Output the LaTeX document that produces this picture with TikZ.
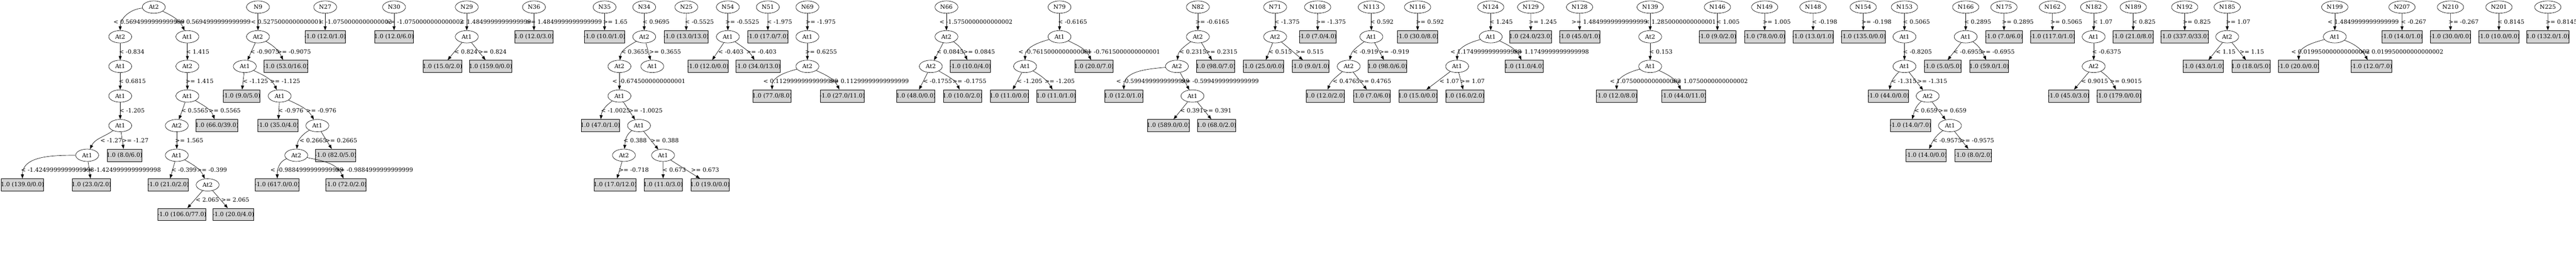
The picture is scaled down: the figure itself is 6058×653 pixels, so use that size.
\documentclass[tikz,border=0pt]{standalone}
\usepackage{fontspec}
\setmainfont{DejaVu Serif}
\usetikzlibrary{shapes.geometric,arrows.meta}
\definecolor{leafgray}{HTML}{D3D3D3}
\def\RowA{-16.7}\def\RowB{-86.3}\def\RowC{-155.9}\def\RowD{-225.5}
\def\RowE{-295.1}\def\RowF{-364.7}\def\RowG{-434.3}\def\RowH{-503.9}
\def\LabA{-51.5}\def\LabB{-121.1}\def\LabC{-190.7}\def\LabD{-260.3}
\def\LabE{-329.9}\def\LabF{-399.5}\def\LabG{-469.1}
\begin{document}
\begin{tikzpicture}[x=1pt,y=1pt,font=\fontsize{13.6}{16}\selectfont,
 nd/.style={ellipse,draw,line width=0.8pt,minimum width=54pt,minimum height=29pt,inner sep=0pt},
 ndw/.style={nd,minimum width=62pt},
 lf/.style={rectangle,draw,fill=leafgray,line width=1pt,minimum height=29pt,inner xsep=-1.5pt,inner ysep=0pt},
 lb/.style={anchor=west,inner sep=0pt},
 conn/.style={-{Triangle[length=9.5pt,width=7pt]},line width=0.8pt}]
\fill[white] (0,0) rectangle (6058,-653);
\useasboundingbox (0,0) rectangle (6058,-653);

% ---------- Tree A ----------
\node[nd] (A0) at (361.7,\RowA) {At2};
\node[nd] (A1) at (282.7,\RowB) {At2};
\node[nd] (A2) at (440.7,\RowB) {At1};
\node[nd] (A3) at (282.7,\RowC) {At1};
\node[nd] (A4) at (282.7,\RowD) {At1};
\node[nd] (A5) at (282.7,\RowE) {At1};
\node[nd] (A6) at (205,\RowF) {At1};
\node[lf] (A7) at (292.7,\RowF) {1.0 (8.0/6.0)};
\node[lf] (A8) at (52.7,\RowG) {1.0 (139.0/0.0)};
\node[lf] (A9) at (215,\RowG) {1.0 (23.0/2.0)};
\node[nd] (A10) at (440.7,\RowC) {At2};
\node[nd] (A11) at (440.7,\RowD) {At1};
\node[nd] (A12) at (415.7,\RowE) {At2};
\node[lf] (A13) at (510,\RowE) {1.0 (66.0/39.0)};
\node[nd] (A14) at (415.7,\RowF) {At1};
\node[lf] (A15) at (395.7,\RowG) {-1.0 (21.0/2.0)};
\node[nd] (A16) at (488.3,\RowG) {At2};
\node[lf] (A17) at (427.7,\RowH) {-1.0 (106.0/77.0)};
\node[lf] (A18) at (548.7,\RowH) {-1.0 (20.0/4.0)};
\draw[conn] (A0) to[out=185,in=90] (A1);
\draw[conn] (A0) to[out=-25,in=115] (A2);
\draw[conn] (A1) -- (A3);
\draw[conn] (A3) -- (A4);
\draw[conn] (A4) -- (A5);
\draw[conn] (A5) to[out=215,in=65] (A6);
\draw[conn] (A5) -- (A7);
\draw[conn] (A6) to[out=180,in=90] (A8);
\draw[conn] (A6) -- (A9);
\draw[conn] (A2) -- (A10);
\draw[conn] (A10) -- (A11);
\draw[conn] (A11) -- (A12);
\draw[conn] (A11) to[out=-30,in=110] (A13);
\draw[conn] (A12) -- (A14);
\draw[conn] (A14) -- (A15);
\draw[conn] (A14) to[out=-30,in=115] (A16);
\draw[conn] (A16) -- (A17);
\draw[conn] (A16) -- (A18);
\node[lb] at (266.7,\LabA) {< 0.5694999999999999};
\node[lb] at (410.7,\LabA) {>= 0.5694999999999999};
\node[lb] at (280,\LabB) {< -0.834};
\node[lb] at (437.3,\LabB) {< 1.415};
\node[lb] at (279.3,\LabC) {< 0.6815};
\node[lb] at (436,\LabC) {>= 1.415};
\node[lb] at (280.7,\LabD) {< -1.205};
\node[lb] at (426,\LabD) {< 0.5565};
\node[lb] at (491,\LabD) {>= 0.5565};
\node[lb] at (236,\LabE) {< -1.27};
\node[lb] at (287,\LabE) {>= -1.27};
\node[lb] at (411.7,\LabE) {>= 1.565};
\node[lb] at (49.3,\LabF) {< -1.4249999999999998};
\node[lb] at (195,\LabF) {>= -1.4249999999999998};
\node[lb] at (403,\LabF) {< -0.399};
\node[lb] at (463,\LabF) {>= -0.399};
\node[lb] at (460,\LabG) {< 2.065};
\node[lb] at (520,\LabG) {>= 2.065};

% ---------- Tree N9 ----------
\node[nd] (N9) at (606.7,\RowA) {N9};
\node[nd] (B1) at (606.7,\RowB) {At2};
\node[nd] (B2) at (575.7,\RowC) {At1};
\node[lf] (B3) at (672.7,\RowC) {-1.0 (53.0/16.0)};
\node[lf] (B4) at (567.7,\RowD) {-1.0 (9.0/5.0)};
\node[nd] (B5) at (657.7,\RowD) {At1};
\node[lf] (B6) at (654,\RowE) {-1.0 (35.0/4.0)};
\node[nd] (B7) at (746.3,\RowE) {At1};
\node[nd] (B8) at (696.7,\RowF) {At2};
\node[lf] (B9) at (789.5,\RowF) {-1.0 (82.0/5.0)};
\node[lf] (B10) at (652,\RowG) {-1.0 (617.0/0.0)};
\node[lf] (B11) at (813.7,\RowG) {-1.0 (72.0/2.0)};
\draw[conn] (N9) -- (B1);
\draw[conn] (B1) -- (B2);
\draw[conn] (B1) to[out=-30,in=115] (B3);
\draw[conn] (B2) -- (B4);
\draw[conn] (B2) to[out=-25,in=115] (B5);
\draw[conn] (B5) -- (B6);
\draw[conn] (B5) to[out=-25,in=120] (B7);
\draw[conn] (B7) to[out=210,in=85] (B8);
\draw[conn] (B7) -- (B9);
\draw[conn] (B8) to[out=200,in=90] (B10);
\draw[conn] (B8) to[out=-12,in=112] (B11);
\node[lb] at (590,\LabA) {< 0.5275000000000001};
\node[lb] at (588.3,\LabB) {< -0.9075};
\node[lb] at (651.7,\LabB) {>= -0.9075};
\node[lb] at (571,\LabC) {< -1.125};
\node[lb] at (635,\LabC) {>= -1.125};
\node[lb] at (654,\LabD) {< -0.976};
\node[lb] at (720,\LabD) {>= -0.976};
\node[lb] at (704.3,\LabE) {< 0.2665};
\node[lb] at (765,\LabE) {>= 0.2665};
\node[lb] at (635.7,\LabF) {< -0.9884999999999999};
\node[lb] at (788,\LabF) {>= -0.9884999999999999};

% ---------- N27, N30 ----------
\node[nd] (N27) at (764.7,\RowA) {N27};
\node[lf] (N27L) at (764.7,\RowB) {-1.0 (12.0/1.0)};
\draw[conn] (N27) -- (N27L);
\node[lb] at (750,\LabA) {< -1.0750000000000002};
\node[nd] (N30) at (926.7,\RowA) {N30};
\node[lf] (N30L) at (926.7,\RowB) {1.0 (12.0/6.0)};
\draw[conn] (N30) -- (N30L);
\node[lb] at (906.7,\LabA) {>= -1.0750000000000002};

% ---------- N29 ----------
\node[nd] (N29) at (1097.7,\RowA) {N29};
\node[nd] (C1) at (1097.7,\RowB) {At1};
\node[lf] (C2) at (1040.5,\RowC) {1.0 (15.0/2.0)};
\node[lf] (C3) at (1153.7,\RowC) {1.0 (159.0/0.0)};
\draw[conn] (N29) -- (C1);
\draw[conn] (C1) -- (C2);
\draw[conn] (C1) -- (C3);
\node[lb] at (1081.7,\LabA) {< 1.4849999999999999};
\node[lb] at (1068.3,\LabB) {< 0.824};
\node[lb] at (1125,\LabB) {>= 0.824};

% ---------- N36, N35 ----------
\node[nd] (N36) at (1255.7,\RowA) {N36};
\node[lf] (N36L) at (1255.7,\RowB) {1.0 (12.0/3.0)};
\draw[conn] (N36) -- (N36L);
\node[lb] at (1236.7,\LabA) {>= 1.4849999999999999};
\node[nd] (N35) at (1421.7,\RowA) {N35};
\node[lf] (N35L) at (1421.7,\RowB) {-1.0 (10.0/1.0)};
\draw[conn] (N35) -- (N35L);
\node[lb] at (1418,\LabA) {>= 1.65};

% ---------- N34 ----------
\node[nd] (N34) at (1515,\RowA) {N34};
\node[nd] (D1) at (1515,\RowB) {At2};
\node[nd] (D2) at (1456.7,\RowC) {At2};
\node[nd] (D3) at (1534,\RowC) {At1};
\node[nd] (D4) at (1456.7,\RowD) {At1};
\node[lf] (D5) at (1411.7,\RowE) {1.0 (47.0/1.0)};
\node[nd] (D6) at (1502.7,\RowE) {At1};
\node[nd] (D7) at (1467.3,\RowF) {At2};
\node[nd] (D8) at (1559.3,\RowF) {At1};
\node[lf] (D9) at (1446.7,\RowG) {1.0 (17.0/12.0)};
\node[lf] (D10) at (1559.5,\RowG) {1.0 (11.0/3.0)};
\node[lf] (D11) at (1669.7,\RowG) {1.0 (19.0/0.0)};
\draw[conn] (N34) -- (D1);
\draw[conn] (D1) to[out=210,in=85] (D2);
\draw[conn] (D1) -- (D3);
\draw[conn] (D2) -- (D4);
\draw[conn] (D4) to[out=215,in=85] (D5);
\draw[conn] (D4) -- (D6);
\draw[conn] (D6) to[out=215,in=85] (D7);
\draw[conn] (D6) -- (D8);
\draw[conn] (D7) -- (D9);
\draw[conn] (D8) -- (D10);
\draw[conn] (D8) -- (D11);
\node[lb] at (1511,\LabA) {< 0.9695};
\node[lb] at (1460.7,\LabB) {< 0.3655};
\node[lb] at (1526.7,\LabB) {>= 0.3655};
\node[lb] at (1440,\LabC) {< -0.6745000000000001};
\node[lb] at (1413.3,\LabD) {< -1.0025};
\node[lb] at (1478.5,\LabD) {>= -1.0025};
\node[lb] at (1466,\LabE) {< 0.388};
\node[lb] at (1530,\LabE) {>= 0.388};
\node[lb] at (1455,\LabF) {>= -0.718};
\node[lb] at (1558,\LabF) {< 0.673};
\node[lb] at (1625,\LabF) {>= 0.673};

% ---------- N25 ----------
\node[nd] (N25) at (1614,\RowA) {N25};
\node[lf] (N25L) at (1613.8,\RowB) {-1.0 (13.0/13.0)};
\draw[conn] (N25) -- (N25L);
\node[lb] at (1610.7,\LabA) {< -0.5525};

% ---------- N54 ----------
\node[nd] (N54) at (1711.7,\RowA) {N54};
\node[nd] (E1) at (1711.7,\RowB) {At1};
\node[lf] (E2) at (1664.8,\RowC) {-1.0 (12.0/0.0)};
\node[lf] (E3) at (1782.8,\RowC) {-1.0 (34.0/13.0)};
\draw[conn] (N54) -- (E1);
\draw[conn] (E1) -- (E2);
\draw[conn] (E1) to[out=-35,in=120] (E3);
\node[lb] at (1705.7,\LabA) {>= -0.5525};
\node[lb] at (1689,\LabB) {< -0.403};
\node[lb] at (1755,\LabB) {>= -0.403};

% ---------- N51 ----------
\node[nd] (N51) at (1805.7,\RowA) {N51};
\node[lf] (N51L) at (1805.8,\RowB) {-1.0 (17.0/7.0)};
\draw[conn] (N51) -- (N51L);
\node[lb] at (1803.3,\LabA) {< -1.975};

% ---------- N69 ----------
\node[nd] (N69) at (1898.7,\RowA) {N69};
\node[nd] (F1) at (1898.7,\RowB) {At1};
\node[nd] (F2) at (1898.7,\RowC) {At2};
\node[lf] (F3) at (1815.7,\RowD) {1.0 (77.0/8.0)};
\node[lf] (F4) at (1980.8,\RowD) {-1.0 (27.0/11.0)};
\draw[conn] (N69) -- (F1);
\draw[conn] (F1) -- (F2);
\draw[conn] (F2) to[out=195,in=90] (F3);
\draw[conn] (F2) to[out=-25,in=115] (F4);
\node[lb] at (1894.3,\LabA) {>= -1.975};
\node[lb] at (1893.3,\LabB) {>= 0.6255};
\node[lb] at (1795,\LabC) {< 0.11299999999999999};
\node[lb] at (1950,\LabC) {>= 0.11299999999999999};

% ---------- N66 ----------
\node[nd] (N66) at (2225.7,\RowA) {N66};
\node[nd] (G1) at (2225.7,\RowB) {At2};
\node[nd] (G2) at (2189,\RowC) {At2};
\node[lf] (G3) at (2281.8,\RowC) {-1.0 (10.0/4.0)};
\node[lf] (G4) at (2153.8,\RowD) {1.0 (48.0/0.0)};
\node[lf] (G5) at (2263.7,\RowD) {1.0 (10.0/2.0)};
\draw[conn] (N66) -- (G1);
\draw[conn] (G1) -- (G2);
\draw[conn] (G1) to[out=-35,in=115] (G3);
\draw[conn] (G2) -- (G4);
\draw[conn] (G2) to[out=-30,in=115] (G5);
\node[lb] at (2209.3,\LabA) {< -1.5750000000000002};
\node[lb] at (2202.7,\LabB) {< 0.0845};
\node[lb] at (2265,\LabB) {>= 0.0845};
\node[lb] at (2170.7,\LabC) {< -0.1755};
\node[lb] at (2240,\LabC) {>= -0.1755};

% ---------- N79 ----------
\node[nd] (N79) at (2491.7,\RowA) {N79};
\node[nd] (H1) at (2491.7,\RowB) {At1};
\node[nd] (H2) at (2410.7,\RowC) {At1};
\node[lf] (H3) at (2572.8,\RowC) {1.0 (20.0/7.0)};
\node[lf] (H4) at (2373.8,\RowD) {1.0 (11.0/0.0)};
\node[lf] (H5) at (2483.8,\RowD) {1.0 (11.0/1.0)};
\draw[conn] (N79) -- (H1);
\draw[conn] (H1) to[out=195,in=90] (H2);
\draw[conn] (H1) to[out=-25,in=115] (H3);
\draw[conn] (H2) -- (H4);
\draw[conn] (H2) to[out=-30,in=120] (H5);
\node[lb] at (2488.3,\LabA) {< -0.6165};
\node[lb] at (2395,\LabB) {< -0.7615000000000001};
\node[lb] at (2545,\LabB) {>= -0.7615000000000001};
\node[lb] at (2391.7,\LabC) {< -1.205};
\node[lb] at (2456.7,\LabC) {>= -1.205};

% ---------- N82 ----------
\node[nd] (N82) at (2817,\RowA) {N82};
\node[nd] (I1) at (2817,\RowB) {At2};
\node[nd] (I2) at (2767.7,\RowC) {At2};
\node[lf] (I3) at (2858.8,\RowC) {1.0 (98.0/7.0)};
\node[lf] (I4) at (2642.8,\RowD) {1.0 (12.0/1.0)};
\node[nd] (I5) at (2804.3,\RowD) {At1};
\node[lf] (I6) at (2747.8,\RowE) {1.0 (589.0/0.0)};
\node[lf] (I7) at (2860.8,\RowE) {1.0 (68.0/2.0)};
\draw[conn] (N82) -- (I1);
\draw[conn] (I1) to[out=215,in=85] (I2);
\draw[conn] (I1) -- (I3);
\draw[conn] (I2) to[out=185,in=90] (I4);
\draw[conn] (I2) -- (I5);
\draw[conn] (I5) -- (I6);
\draw[conn] (I5) -- (I7);
\node[lb] at (2811,\LabA) {>= -0.6165};
\node[lb] at (2773.3,\LabB) {< 0.2315};
\node[lb] at (2835,\LabB) {>= 0.2315};
\node[lb] at (2625,\LabC) {< -0.5994999999999999};
\node[lb] at (2777,\LabC) {>= -0.5994999999999999};
\node[lb] at (2775,\LabD) {< 0.391};
\node[lb] at (2830,\LabD) {>= 0.391};

% ---------- N71 ----------
\node[nd] (N71) at (2998.7,\RowA) {N71};
\node[nd] (J1) at (2998.7,\RowB) {At2};
\node[lf] (J2) at (2970.8,\RowC) {-1.0 (25.0/0.0)};
\node[lf] (J3) at (3081.8,\RowC) {-1.0 (9.0/1.0)};
\draw[conn] (N71) -- (J1);
\draw[conn] (J1) -- (J2);
\draw[conn] (J1) -- (J3);
\node[lb] at (2996.7,\LabA) {< -1.375};
\node[lb] at (2983.3,\LabB) {< 0.515};
\node[lb] at (3046.7,\LabB) {>= 0.515};

% ---------- N108 ----------
\node[ndw] (N108) at (3098.7,\RowA) {N108};
\node[lf] (N108L) at (3098.8,\RowB) {-1.0 (7.0/4.0)};
\draw[conn] (N108) -- (N108L);
\node[lb] at (3094.3,\LabA) {>= -1.375};

% ---------- N113 ----------
\node[ndw] (N113) at (3225,\RowA) {N113};
\node[nd] (K1) at (3225,\RowB) {At1};
\node[nd] (K2) at (3171.7,\RowC) {At2};
\node[lf] (K3) at (3262.7,\RowC) {1.0 (98.0/6.0)};
\node[lf] (K4) at (3116.8,\RowD) {1.0 (12.0/2.0)};
\node[lf] (K5) at (3226,\RowD) {-1.0 (7.0/6.0)};
\draw[conn] (N113) -- (K1);
\draw[conn] (K1) to[out=215,in=80] (K2);
\draw[conn] (K1) -- (K3);
\draw[conn] (K2) to[out=220,in=70] (K4);
\draw[conn] (K2) -- (K5);
\node[lb] at (3222.3,\LabA) {< 0.592};
\node[lb] at (3181.7,\LabB) {< -0.919};
\node[lb] at (3243.3,\LabB) {>= -0.919};
\node[lb] at (3134,\LabC) {< 0.4765};
\node[lb] at (3196.7,\LabC) {>= 0.4765};

% ---------- N116 ----------
\node[ndw] (N116) at (3333.7,\RowA) {N116};
\node[lf] (N116L) at (3333.8,\RowB) {-1.0 (30.0/8.0)};
\draw[conn] (N116) -- (N116L);
\node[lb] at (3329.3,\LabA) {>= 0.592};

% ---------- N124 ----------
\node[ndw] (N124) at (3505.7,\RowA) {N124};
\node[nd] (L1) at (3505.7,\RowB) {At1};
\node[nd] (L2) at (3426.7,\RowC) {At1};
\node[lf] (L3) at (3584.7,\RowC) {1.0 (11.0/4.0)};
\node[lf] (L4) at (3334.7,\RowD) {1.0 (15.0/0.0)};
\node[lf] (L5) at (3444.7,\RowD) {1.0 (16.0/2.0)};
\draw[conn] (N124) -- (L1);
\draw[conn] (L1) to[out=195,in=90] (L2);
\draw[conn] (L1) to[out=-25,in=115] (L3);
\draw[conn] (L2) -- (L4);
\draw[conn] (L2) -- (L5);
\node[lb] at (3502.7,\LabA) {< 1.245};
\node[lb] at (3411,\LabB) {< 1.1749999999999998};
\node[lb] at (3558,\LabB) {>= 1.1749999999999998};
\node[lb] at (3385,\LabC) {< 1.07};
\node[lb] at (3434,\LabC) {>= 1.07};

% ---------- N129, N128 ----------
\node[ndw] (N129) at (3599.7,\RowA) {N129};
\node[lf] (N129L) at (3599.8,\RowB) {1.0 (24.0/23.0)};
\draw[conn] (N129) -- (N129L);
\node[lb] at (3595,\LabA) {>= 1.245};
\node[ndw] (N128) at (3714.7,\RowA) {N128};
\node[lf] (N128L) at (3714.8,\RowB) {-1.0 (45.0/1.0)};
\draw[conn] (N128) -- (N128L);
\node[lb] at (3695.7,\LabA) {>= 1.4849999999999999};

% ---------- N139 ----------
\node[ndw] (N139) at (3880.7,\RowA) {N139};
\node[nd] (M1) at (3880.7,\RowB) {At2};
\node[nd] (M2) at (3880.7,\RowC) {At1};
\node[lf] (M3) at (3801.8,\RowD) {-1.0 (12.0/8.0)};
\node[lf] (M4) at (3959.8,\RowD) {-1.0 (44.0/11.0)};
\draw[conn] (N139) -- (M1);
\draw[conn] (M1) -- (M2);
\draw[conn] (M2) to[out=195,in=90] (M3);
\draw[conn] (M2) to[out=-25,in=115] (M4);
\node[lb] at (3868,\LabA) {< 1.2850000000000001};
\node[lb] at (3878.3,\LabB) {< 0.153};
\node[lb] at (3785.7,\LabC) {< 1.0750000000000002};
\node[lb] at (3931.7,\LabC) {>= 1.0750000000000002};

% ---------- N146, N149, N148, N154 ----------
\node[ndw] (N146) at (4038.8,\RowA) {N146};
\node[lf] (N146L) at (4038.8,\RowB) {-1.0 (9.0/2.0)};
\draw[conn] (N146) -- (N146L);
\node[lb] at (4036,\LabA) {< 1.005};
\node[ndw] (N149) at (4150,\RowA) {N149};
\node[lf] (N149L) at (4149.8,\RowB) {-1.0 (78.0/0.0)};
\draw[conn] (N149) -- (N149L);
\node[lb] at (4145,\LabA) {>= 1.005};
\node[ndw] (N148) at (4263.7,\RowA) {N148};
\node[lf] (N148L) at (4263.8,\RowB) {-1.0 (13.0/1.0)};
\draw[conn] (N148) -- (N148L);
\node[lb] at (4261,\LabA) {< -0.198};
\node[ndw] (N154) at (4381.7,\RowA) {N154};
\node[lf] (N154L) at (4381.8,\RowB) {-1.0 (135.0/0.0)};
\draw[conn] (N154) -- (N154L);
\node[lb] at (4377.3,\LabA) {>= -0.198};

% ---------- N153 ----------
\node[ndw] (N153) at (4478.7,\RowA) {N153};
\node[nd] (P1) at (4478.7,\RowB) {At1};
\node[nd] (P2) at (4478.7,\RowC) {At1};
\node[lf] (P4) at (4440.8,\RowD) {-1.0 (44.0/0.0)};
\node[nd] (P5) at (4533.3,\RowD) {At2};
\node[lf] (P6) at (4492.8,\RowE) {-1.0 (14.0/7.0)};
\node[nd] (P7) at (4585.7,\RowE) {At1};
\node[lf] (P8) at (4529.7,\RowF) {-1.0 (14.0/0.0)};
\node[lf] (P9) at (4640.8,\RowF) {-1.0 (8.0/2.0)};
\draw[conn] (N153) -- (P1);
\draw[conn] (P1) -- (P2);
\draw[conn] (P2) to[out=225,in=80] (P4);
\draw[conn] (P2) -- (P5);
\draw[conn] (P5) to[out=220,in=75] (P6);
\draw[conn] (P5) -- (P7);
\draw[conn] (P7) to[out=215,in=65] (P8);
\draw[conn] (P7) -- (P9);
\node[lb] at (4475,\LabA) {< 0.5065};
\node[lb] at (4475,\LabB) {< -0.8205};
\node[lb] at (4447.3,\LabC) {< -1.315};
\node[lb] at (4508.3,\LabC) {>= -1.315};
\node[lb] at (4501.7,\LabD) {< 0.659};
\node[lb] at (4558.3,\LabD) {>= 0.659};
\node[lb] at (4545,\LabE) {< -0.9575};
\node[lb] at (4610,\LabE) {>= -0.9575};

% ---------- N166 ----------
\node[ndw] (N166) at (4622.7,\RowA) {N166};
\node[nd] (Q1) at (4622.7,\RowB) {At1};
\node[lf] (Q2) at (4568.8,\RowC) {-1.0 (5.0/5.0)};
\node[lf] (Q3) at (4677.8,\RowC) {1.0 (59.0/1.0)};
\draw[conn] (N166) -- (Q1);
\draw[conn] (Q1) -- (Q2);
\draw[conn] (Q1) to[out=-35,in=115] (Q3);
\node[lb] at (4619,\LabA) {< 0.2895};
\node[lb] at (4593.3,\LabB) {< -0.6955};
\node[lb] at (4658.3,\LabB) {>= -0.6955};

% ---------- N175, N162 ----------
\node[ndw] (N175) at (4712.7,\RowA) {N175};
\node[lf] (N175L) at (4712.8,\RowB) {-1.0 (7.0/6.0)};
\draw[conn] (N175) -- (N175L);
\node[lb] at (4707.7,\LabA) {>= 0.2895};
\node[ndw] (N162) at (4826.7,\RowA) {N162};
\node[lf] (N162L) at (4826.8,\RowB) {-1.0 (117.0/1.0)};
\draw[conn] (N162) -- (N162L);
\node[lb] at (4821.7,\LabA) {>= 0.5065};

% ---------- N182 ----------
\node[ndw] (N182) at (4923.7,\RowA) {N182};
\node[nd] (R1) at (4923.7,\RowB) {At1};
\node[nd] (R2) at (4923.7,\RowC) {At2};
\node[lf] (R3) at (4864.8,\RowD) {-1.0 (45.0/3.0)};
\node[lf] (R4) at (4982.8,\RowD) {-1.0 (179.0/0.0)};
\draw[conn] (N182) -- (R1);
\draw[conn] (R1) -- (R2);
\draw[conn] (R2) -- (R3);
\draw[conn] (R2) to[out=-35,in=115] (R4);
\node[lb] at (4921.7,\LabA) {< 1.07};
\node[lb] at (4920,\LabB) {< -0.6375};
\node[lb] at (4894,\LabC) {< 0.9015};
\node[lb] at (4961.7,\LabC) {>= 0.9015};

% ---------- N189, N192 ----------
\node[ndw] (N189) at (5016.7,\RowA) {N189};
\node[lf] (N189L) at (5016.7,\RowB) {-1.0 (21.0/8.0)};
\draw[conn] (N189) -- (N189L);
\node[lb] at (5014.3,\LabA) {< 0.825};
\node[ndw] (N192) at (5137.7,\RowA) {N192};
\node[lf] (N192L) at (5137.8,\RowB) {-1.0 (337.0/33.0)};
\draw[conn] (N192) -- (N192L);
\node[lb] at (5132.7,\LabA) {>= 0.825};

% ---------- N185 ----------
\node[ndw] (N185) at (5237.7,\RowA) {N185};
\node[nd] (S1) at (5237.7,\RowB) {At2};
\node[lf] (S2) at (5181.7,\RowC) {-1.0 (43.0/1.0)};
\node[lf] (S3) at (5293.8,\RowC) {1.0 (18.0/5.0)};
\draw[conn] (N185) -- (S1);
\draw[conn] (S1) -- (S2);
\draw[conn] (S1) -- (S3);
\node[lb] at (5234.3,\LabA) {>= 1.07};
\node[lb] at (5211,\LabB) {< 1.15};
\node[lb] at (5266.7,\LabB) {>= 1.15};

% ---------- N199 ----------
\node[ndw] (N199) at (5490.7,\RowA) {N199};
\node[nd] (T1) at (5490.7,\RowB) {At1};
\node[lf] (T2) at (5405.8,\RowC) {-1.0 (20.0/0.0)};
\node[lf] (T3) at (5576.8,\RowC) {-1.0 (12.0/7.0)};
\draw[conn] (N199) -- (T1);
\draw[conn] (T1) to[out=195,in=90] (T2);
\draw[conn] (T1) to[out=-20,in=120] (T3);
\node[lb] at (5474,\LabA) {< 1.4849999999999999};
\node[lb] at (5388.3,\LabB) {< 0.019950000000000002};
\node[lb] at (5550,\LabB) {>= 0.019950000000000002};

% ---------- N207, N210, N201, N225 ----------
\node[ndw] (N207) at (5648.7,\RowA) {N207};
\node[lf] (N207L) at (5648.8,\RowB) {-1.0 (14.0/1.0)};
\draw[conn] (N207) -- (N207L);
\node[lb] at (5646.3,\LabA) {< -0.267};
\node[ndw] (N210) at (5762.7,\RowA) {N210};
\node[lf] (N210L) at (5762.8,\RowB) {-1.0 (30.0/0.0)};
\draw[conn] (N210) -- (N210L);
\node[lb] at (5758,\LabA) {>= -0.267};
\node[ndw] (N201) at (5876.7,\RowA) {N201};
\node[lf] (N201L) at (5876.7,\RowB) {-1.0 (10.0/0.0)};
\draw[conn] (N201) -- (N201L);
\node[lb] at (5873,\LabA) {< 0.8145};
\node[ndw] (N225) at (5991.7,\RowA) {N225};
\node[lf] (N225L) at (5991.8,\RowB) {1.0 (132.0/1.0)};
\draw[conn] (N225) -- (N225L);
\node[lb] at (5986.3,\LabA) {>= 0.8145};
\end{tikzpicture}
\end{document}
